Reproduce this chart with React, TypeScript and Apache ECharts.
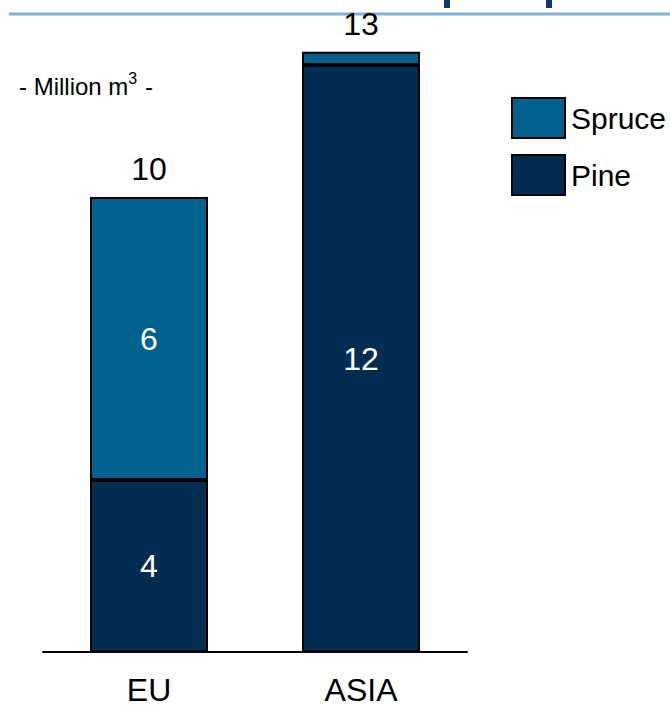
import React, { useEffect, useRef } from "react";
import * as echarts from "echarts";

const categories = ["EU", "ASIA"];
const pineValues = [3.78, 12.9];
const spruceValues = [6.22, 0.29];
const pineLabels = ["4", "12"];
const spruceLabels = ["6", ""];
const totalLabels = ["10", "13"];
const seriesNames = ["Spruce", "Pine"];

const FONT = "'Liberation Sans Narrow', 'Arial Narrow', 'Liberation Sans', Arial, sans-serif";
const SPRUCE = "#00618e";
const PINE = "#032c51";
const FS = 32;

export default function App() {
  const ref = useRef<HTMLDivElement>(null);
  useEffect(() => {
    if (!ref.current) return;
    const chart = echarts.init(ref.current, null, { renderer: "svg" });
    const inside = (labels: string[]) => (p: any) => labels[p.dataIndex];
    chart.setOption({
      animation: false,
      textStyle: { fontFamily: FONT },
      grid: { left: 43, right: 203, bottom: 57, top: 15 },
      legend: {
        data: seriesNames,
        orient: "vertical",
        left: 506,
        top: 92,
        itemWidth: 53,
        itemHeight: 40,
        itemGap: 15,
        icon: "rect",
        itemStyle: { borderColor: "#000", borderWidth: 2 },
        textStyle: { fontSize: 30, color: "#000", fontFamily: FONT, padding: [0, 0, 0, 1] },
      },
      xAxis: {
        type: "category",
        data: categories,
        axisLine: { lineStyle: { color: "#000", width: 2 } },
        axisTick: { show: false },
        axisLabel: { fontSize: FS, color: "#000", margin: 22, fontFamily: FONT },
      },
      yAxis: { type: "value", min: 0, max: 14, show: false },
      series: [
        {
          name: "Pine",
          type: "bar",
          stack: "a",
          barWidth: 118,
          data: pineValues,
          itemStyle: { color: PINE, borderColor: "#000", borderWidth: 2 },
          label: { show: true, position: "inside", color: "#fff", fontSize: FS, fontFamily: FONT, formatter: inside(pineLabels) },
        },
        {
          name: "Spruce",
          type: "bar",
          stack: "a",
          barWidth: 118,
          data: spruceValues.map((v, i) => ({ value: v, label: { show: spruceLabels[i] !== "" } })),
          itemStyle: { color: SPRUCE, borderColor: "#000", borderWidth: 2 },
          label: { show: true, position: "inside", color: "#fff", fontSize: FS, fontFamily: FONT, formatter: inside(spruceLabels) },
        },
        {
          name: "Total",
          type: "bar",
          stack: "a",
          barWidth: 118,
          data: categories.map(() => 0),
          itemStyle: { color: "transparent" },
          label: { show: true, position: "top", distance: 12, color: "#000", fontSize: FS, fontFamily: FONT, formatter: inside(totalLabels) },
        },
      ],
      graphic: [
        { type: "line", shape: { x1: 9, y1: 14, x2: 670, y2: 14 }, style: { stroke: "#7fb2d3", lineWidth: 3 } },
        { type: "rect", shape: { x: 444, y: 0, width: 6, height: 8 }, style: { fill: "#0b3a66" } },
        { type: "rect", shape: { x: 546, y: 0, width: 6, height: 8 }, style: { fill: "#0b3a66" } },
        {
          type: "text",
          left: 19,
          top: 68,
          style: {
            text: "{n|- Million m}{s|3}{n| -}",
            rich: {
              n: { fontSize: 24, fontFamily: FONT, fill: "#000", lineHeight: 30, verticalAlign: "bottom" },
              s: { fontSize: 16, fontFamily: FONT, fill: "#000", lineHeight: 30, verticalAlign: "top", padding: [2, 1, 0, 0] },
            },
          },
        },
      ],
    });
    return () => chart.dispose();
  }, []);
  return <div ref={ref} style={{ position: "absolute", left: 0, top: 0, width: 670, height: 709 }} />;
}
